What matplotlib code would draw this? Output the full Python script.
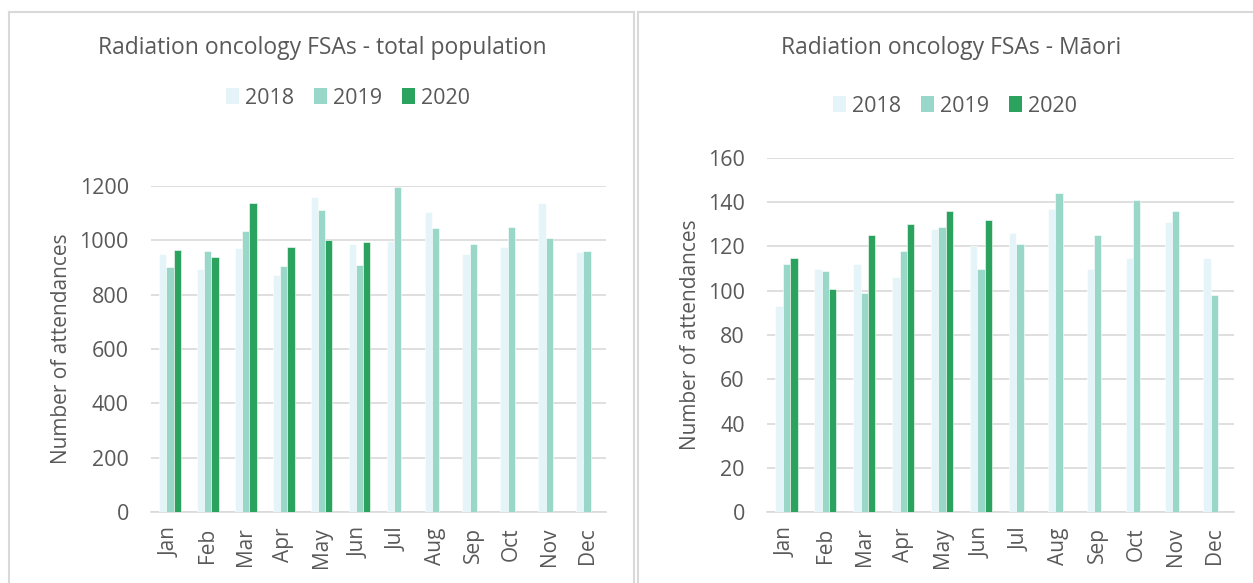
import numpy as np
import matplotlib
matplotlib.use("Agg")
import matplotlib.pyplot as plt
from matplotlib.patches import Patch
from matplotlib.lines import Line2D

plt.rcParams["font.family"] = ["Open Sans", "DejaVu Sans"]

months = ["Jan", "Feb", "Mar", "Apr", "May", "Jun", "Jul", "Aug", "Sep", "Oct", "Nov", "Dec"]
years = ["2018", "2019", "2020"]
nan = np.nan

# total population
total_2018 = [951, 894, 971, 873, 1158, 988, 997, 1103, 948, 975, 1136, 957]
total_2019 = [901, 960, 1035, 905, 1112, 909, 1196, 1044, 988, 1049, 1008, 959]
total_2020 = [964, 938, 1139, 977, 1002, 994, nan, nan, nan, nan, nan, nan]

# Maori
maori_2018 = [93, 110, 112, 106, 128, 120, 126, 137, 110, 115, 131, 115]
maori_2019 = [112, 109, 99, 118, 129, 110, 121, 144, 125, 141, 136, 98]
maori_2020 = [115, 101, 125, 130, 136, 132, nan, nan, nan, nan, nan, nan]

colors = ["#e5f4f9", "#99d8c9", "#2ca25f"]
text_col = "#595959"
grid_col = "#d9d9d9"

fig = plt.figure(figsize=(12.53, 5.83), dpi=100)


def bar_panel(rect, series, ymax, ystep, title, title_x, legend_x, legend_y):
    ax = fig.add_axes(rect)
    x = np.arange(len(months))
    w = 0.19
    for i, vals in enumerate(series):
        ax.bar(x + (i - 1) * w, vals, width=w, color=colors[i],
               edgecolor="white", linewidth=0.4, zorder=3)
    ax.set_xlim(-0.5, len(months) - 0.5)
    ax.set_ylim(0, ymax)
    ax.set_yticks(np.arange(0, ymax + 1, ystep))
    ax.set_xticks(x)
    ax.set_xticklabels(months, rotation=90)
    ax.yaxis.grid(True, color=grid_col, linewidth=1.2, zorder=0)
    for s in ["top", "right", "left"]:
        ax.spines[s].set_visible(False)
    ax.spines["bottom"].set_color(grid_col)
    ax.spines["bottom"].set_linewidth(1.2)
    ax.tick_params(axis="y", length=0, pad=16, labelsize=15.5, labelcolor=text_col)
    ax.tick_params(axis="x", length=0, pad=11, labelsize=15, labelcolor=text_col)
    ax.set_ylabel("Number of attendances", fontsize=15, color=text_col, labelpad=5)
    fig.text(title_x, 1 - 48 / 583, title, ha="center", va="center",
             fontsize=16.5, color=text_col)
    handles = [Patch(facecolor=c, edgecolor="none") for c in colors]
    fig.legend(handles, years, loc="center", bbox_to_anchor=(legend_x, legend_y),
               ncol=3, frameon=False, fontsize=15.5, labelcolor=text_col,
               handlelength=0.6, handleheight=0.75, handletextpad=0.3,
               columnspacing=0.9)
    return ax


bar_panel([151 / 1253, 1 - 512 / 583, 455 / 1253, 326 / 583],
          [total_2018, total_2019, total_2020], 1200, 200,
          "Radiation oncology FSAs - total population", 322 / 1253,
          348 / 1253, 1 - 98 / 583)
bar_panel([767 / 1253, 1 - 512 / 583, 467 / 1253, 354 / 583],
          [maori_2018, maori_2019, maori_2020], 160, 20,
          "Radiation oncology FSAs - Māori", 951 / 1253,
          955 / 1253, 1 - 106 / 583)

# panel borders
W, H = 1253, 583
border = dict(color=grid_col, linewidth=1.5, transform=fig.transFigure)
fig.add_artist(Line2D([9 / W, 634 / W], [1 - 12 / H, 1 - 12 / H], **border))
fig.add_artist(Line2D([9 / W, 9 / W], [0, 1 - 12 / H], **border))
fig.add_artist(Line2D([634 / W, 634 / W], [0, 1 - 12 / H], **border))
fig.add_artist(Line2D([638 / W, 1], [1 - 12 / H, 1 - 12 / H], **border))
fig.add_artist(Line2D([638 / W, 638 / W], [0, 1 - 12 / H], **border))

fig.savefig("out.png", dpi=100)
